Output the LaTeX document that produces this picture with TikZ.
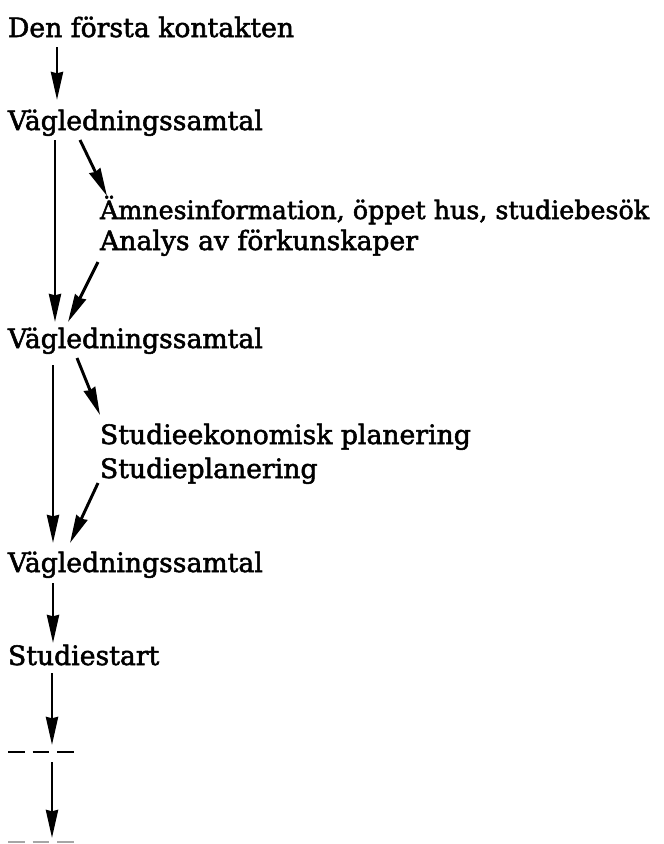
\documentclass[tikz,border=0pt]{standalone}
\usepackage{fontspec}
\setmainfont[FakeBold=2]{DejaVu Serif}
\usetikzlibrary{arrows.meta,calc}
\begin{document}
\begin{tikzpicture}[x=0.75pt,y=-0.75pt,
  lbl/.style={anchor=base west,inner sep=0pt,outer sep=0pt,font=\fontsize{20}{24}\selectfont},
  arr/.style={line width=2.2pt,-{Stealth[length=21pt,width=9pt,inset=1pt]}},
  dashrow/.style={line width=1.8pt,dash pattern=on 12.5pt off 6pt}]
\useasboundingbox (0,0) rectangle (664,844);
\node[lbl] (t0) at (8,37) {Den första kontakten};
\node[lbl] (t1) at (8,130) {Vägledningssamtal};
\node[lbl,font=\fontsize{19}{24}\selectfont] (t2) at (100,219) {Ämnesinformation, öppet hus, studiebesök};
\node[lbl] (t3) at (100,250) {Analys av förkunskaper};
\node[lbl] (t4) at (8,348) {Vägledningssamtal};
\node[lbl] (t5) at (100,444) {Studieekonomisk planering};
\node[lbl] (t6) at (100,478) {Studieplanering};
\node[lbl] (t7) at (8,572) {Vägledningssamtal};
\node[lbl] (t8) at (8,665) {Studiestart};
\coordinate (d1) at (8,752);
\coordinate (d1e) at (75,752);
\coordinate (d2) at (8,842);
\coordinate (d2e) at (75,842);
\draw[dashrow] (d1) -- (d1e);
\draw[dashrow,gray!70] (d2) -- (d2e);
\draw[arr] ($(t0.base west)+(49,10)$) -- ($(t1.base west)+(49,-30)$);
\draw[arr] ($(t1.base west)+(47,10)$) -- ($(t4.base west)+(47,-26)$);
\draw[arr] ($(t1.base west)+(72,10)$) -- ($(t2.base west)+(7,-23)$);
\draw[arr] ($(t3.base west)+(-2,12)$) -- ($(t4.base west)+(60,-26)$);
\draw[arr] ($(t4.base west)+(45,17)$) -- ($(t7.base west)+(45,-29)$);
\draw[arr] ($(t4.base west)+(69,10)$) -- ($(t5.base west)+(0,-29)$);
\draw[arr] ($(t6.base west)+(-2,5)$) -- ($(t7.base west)+(62,-29)$);
\draw[arr] ($(t7.base west)+(45,11)$) -- ($(t8.base west)+(45,-22)$);
\draw[arr] ($(t8.base west)+(44,8)$) -- ($(d1)+(44,-7)$);
\draw[arr] ($(d1)+(44,10)$) -- ($(d2)+(44,-4)$);
\end{tikzpicture}
\end{document}
